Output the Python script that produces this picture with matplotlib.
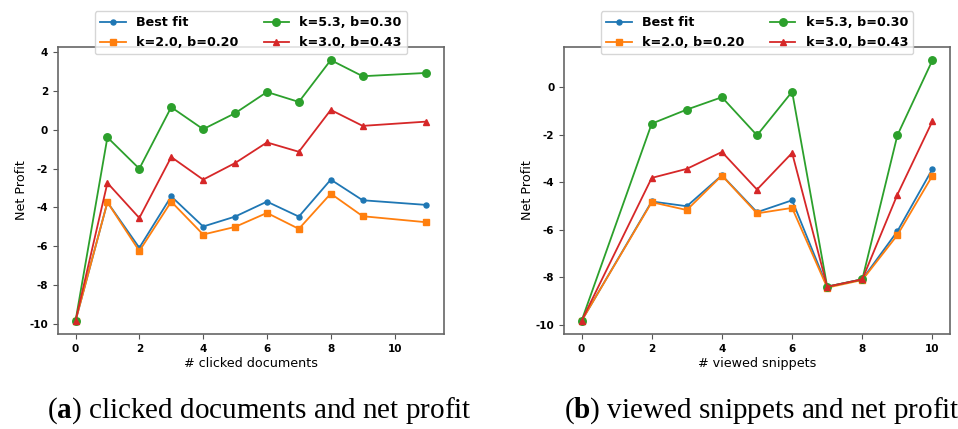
import matplotlib
matplotlib.use("Agg")
import matplotlib.pyplot as plt

plt.rcParams["mathtext.fontset"] = "custom"
plt.rcParams["mathtext.rm"] = "Liberation Serif"
plt.rcParams["mathtext.bf"] = "Liberation Serif:bold"
plt.rcParams["axes.unicode_minus"] = False

# (a) net profit vs. number of clicked documents
clicks_x = [0, 1, 2, 3, 4, 5, 6, 7, 8, 9, 11]
clicks_best = [-9.83, -3.73, -6.07, -3.43, -4.98, -4.47, -3.70, -4.47, -2.57, -3.63, -3.87]
clicks_k20 = [-9.83, -3.73, -6.24, -3.70, -5.39, -5.00, -4.28, -5.10, -3.29, -4.45, -4.76]
clicks_k53 = [-9.83, -0.40, -2.01, 1.15, 0.02, 0.84, 1.93, 1.42, 3.57, 2.74, 2.91]
clicks_k30 = [-9.83, -2.74, -4.54, -1.41, -2.57, -1.72, -0.66, -1.14, 1.01, 0.19, 0.41]

# (b) net profit vs. number of viewed snippets
views_x = [0, 2, 3, 4, 5, 6, 7, 8, 9, 10]
views_best = [-9.83, -4.81, -5.01, -3.71, -5.26, -4.76, -8.39, -8.08, -6.06, -3.44]
views_k20 = [-9.83, -4.84, -5.17, -3.72, -5.31, -5.08, -8.43, -8.11, -6.22, -3.72]
views_k53 = [-9.83, -1.54, -0.95, -0.43, -2.03, -0.20, -8.39, -8.08, -2.03, 1.13]
views_k30 = [-9.83, -3.82, -3.44, -2.73, -4.31, -2.77, -8.39, -8.08, -4.52, -1.43]

labels = ["Best fit", "k=2.0, b=0.20", "k=5.3, b=0.30", "k=3.0, b=0.43"]
colors = ["#1f77b4", "#ff7f0e", "#2ca02c", "#d62728"]
markers = ["o", "s", "o", "^"]
msizes = [3.6, 5.0, 5.4, 5.0]

fig = plt.figure(figsize=(9.58, 4.29), dpi=100)
ax1 = fig.add_axes([0.0605, 0.2214, 0.403, 0.669])
ax2 = fig.add_axes([0.5887, 0.2214, 0.403, 0.669])

panels = [
    (ax1, clicks_x, [clicks_best, clicks_k20, clicks_k53, clicks_k30], "# clicked documents",
     r"($\mathbf{a}$) clicked documents and net profit", 0.271),
    (ax2, views_x, [views_best, views_k20, views_k53, views_k30], "# viewed snippets",
     r"($\mathbf{b}$) viewed snippets and net profit", 0.795),
]

for ax, xs, series, xlabel, caption, cx in panels:
    lines = []
    for ys, lab, c, m, ms in zip(series, labels, colors, markers, msizes):
        ln, = ax.plot(xs, ys, color=c, marker=m, markersize=ms, linewidth=1.3, label=lab)
        lines.append(ln)
    ax.legend(handles=lines, labels=labels, ncol=2, loc="upper center",
              bbox_to_anchor=(0.5, 1.125), borderaxespad=0,
              prop={"weight": "bold", "size": 9.2}, handlelength=2.0,
              labelspacing=0.55, columnspacing=2.0, borderpad=0.4)
    ax.set_xlabel(xlabel, fontsize=9.2, labelpad=2)
    ax.set_ylabel("Net Profit", fontsize=9.2, labelpad=1)
    ax.tick_params(labelsize=7.5, length=3.5, color="#555555")
    for t in ax.get_xticklabels() + ax.get_yticklabels():
        t.set_fontweight("bold")
    for sp in ax.spines.values():
        sp.set_color("#666666")
        sp.set_linewidth(1.2)
    fig.text(cx, 0.026, caption, ha="center", va="baseline",
             fontsize=21, family="Liberation Serif")

fig.savefig("out.png", dpi=100)
